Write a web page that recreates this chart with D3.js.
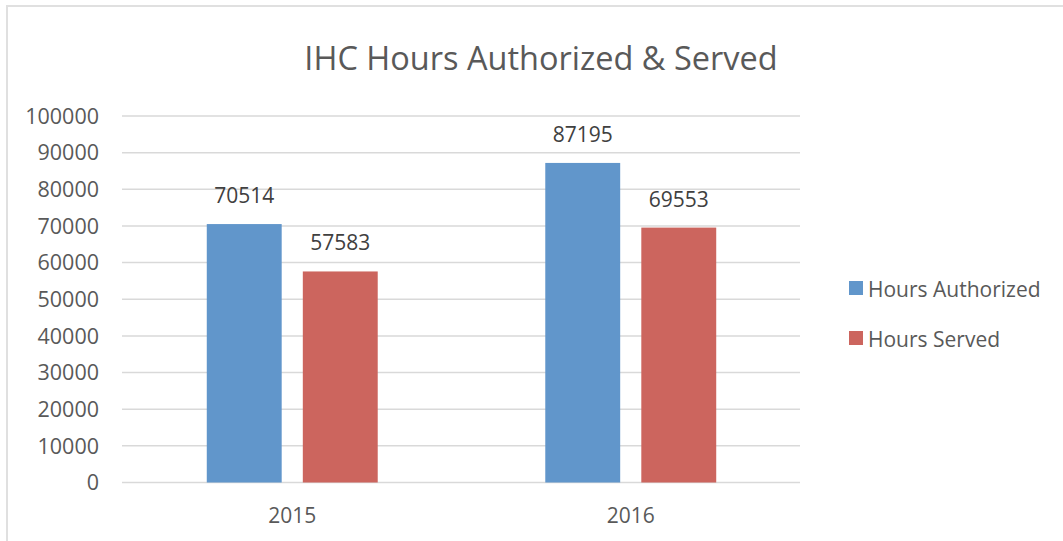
<!DOCTYPE html>
<html>
<head>
<meta charset="utf-8">
<script src="https://cdn.jsdelivr.net/npm/d3@7"></script>
<style>
  body { margin: 0; background: #fff; }
  svg { display: block; font-family: "Open Sans", sans-serif; }
</style>
</head>
<body>
<div id="chart"></div>
<script>
var years = ['2015', '2016'];
var series = ['Hours Authorized', 'Hours Served'];
var authorized = [70514, 87195];
var served = [57583, 69553];
var yTicks = [0, 10000, 20000, 30000, 40000, 50000, 60000, 70000, 80000, 90000, 100000];
var colors = ['#6196CB', '#CC655E'];

var width = 1063,
    height = 541;

var plot = { left: 123, right: 800, top: 116, bottom: 482.5 };

var svg = d3.select('#chart')
    .append('svg')
    .attr('width', width)
    .attr('height', height);

// chart frame (right & bottom run off the page)
svg.append('rect')
    .attr('x', 7)
    .attr('y', 6)
    .attr('width', 1100)
    .attr('height', 600)
    .attr('fill', 'none')
    .attr('stroke', '#E0E0E0')
    .attr('stroke-width', 2);

svg.append('text')
    .attr('x', 541)
    .attr('y', 70)
    .attr('text-anchor', 'middle')
    .style('font-size', '32.5px')
    .attr('fill', '#595959')
    .text('IHC Hours Authorized & Served');

var y = d3.scaleLinear()
    .domain([0, 100000])
    .range([plot.bottom, plot.top]);

var x0 = d3.scaleBand()
    .domain(years)
    .range([plot.left, plot.right])
    .paddingInner(0.495)
    .paddingOuter(0.2475);

var x1 = d3.scaleBand()
    .domain(series)
    .range([0, x0.bandwidth()])
    .paddingInner(0.22);

// gridlines
svg.append('g')
    .selectAll('line')
    .data(yTicks)
    .enter()
    .append('line')
    .attr('x1', plot.left - 1)
    .attr('x2', plot.right)
    .attr('y1', d => y(d))
    .attr('y2', d => y(d))
    .attr('stroke', '#D9D9D9')
    .attr('stroke-width', 1.5);

// y tick labels
svg.append('g')
    .selectAll('text')
    .data(yTicks)
    .enter()
    .append('text')
    .attr('x', 99)
    .attr('y', d => y(d))
    .attr('dy', '0.36em')
    .attr('text-anchor', 'end')
    .style('font-size', '21.5px')
    .attr('fill', '#595959')
    .text(d => d);

// x labels
svg.append('g')
    .selectAll('text')
    .data(years)
    .enter()
    .append('text')
    .attr('x', d => x0(d) + x0.bandwidth() / 2)
    .attr('y', 523)
    .attr('text-anchor', 'middle')
    .style('font-size', '21px')
    .attr('fill', '#595959')
    .text(d => d);

var rows = [];
years.forEach((yr, i) => {
    rows.push({ year: yr, s: series[0], v: authorized[i], c: colors[0] });
    rows.push({ year: yr, s: series[1], v: served[i], c: colors[1] });
});

svg.append('g')
    .selectAll('rect')
    .data(rows)
    .enter()
    .append('rect')
    .attr('x', d => x0(d.year) + x1(d.s))
    .attr('y', d => y(d.v))
    .attr('width', x1.bandwidth())
    .attr('height', d => y(0) - y(d.v))
    .attr('fill', d => d.c);

svg.append('g')
    .selectAll('text')
    .data(rows)
    .enter()
    .append('text')
    .attr('x', d => x0(d.year) + x1(d.s) + x1.bandwidth() / 2)
    .attr('y', d => y(d.v) - 21)
    .attr('text-anchor', 'middle')
    .style('font-size', '21px')
    .attr('fill', '#404040')
    .text(d => d.v);

// legend
var legend = svg.append('g')
    .selectAll('g')
    .data(series)
    .enter()
    .append('g')
    .attr('transform', (d, i) => 'translate(849,' + (281 + i * 50) + ')');

legend.append('rect')
    .attr('width', 14)
    .attr('height', 14)
    .attr('fill', (d, i) => colors[i]);

legend.append('text')
    .attr('x', 19)
    .attr('y', 16)
    .style('font-size', '21px')
    .attr('fill', '#595959')
    .text(d => d);
</script>
</body>
</html>
